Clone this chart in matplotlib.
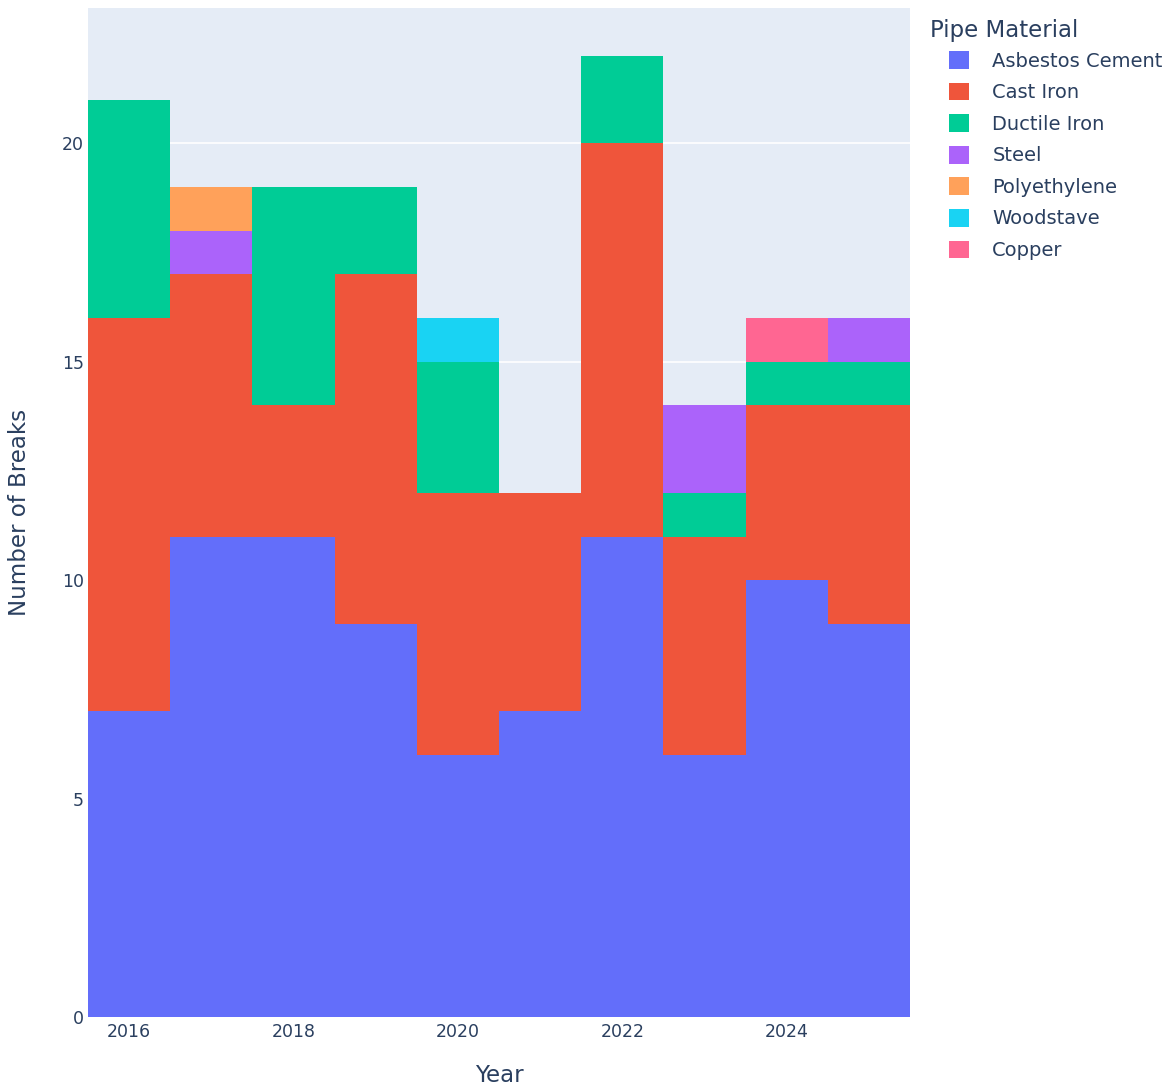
import matplotlib
matplotlib.use("Agg")
import matplotlib.pyplot as plt
import numpy as np

years = [2016, 2017, 2018, 2019, 2020, 2021, 2022, 2023, 2024, 2025]
materials = ["Asbestos Cement", "Cast Iron", "Ductile Iron", "Steel",
             "Polyethylene", "Woodstave", "Copper"]
asbestos_cement = [7, 11, 11, 9, 6, 7, 11, 6, 10, 9]
cast_iron = [9, 6, 3, 8, 6, 5, 9, 5, 4, 5]
ductile_iron = [5, 0, 5, 2, 3, 0, 2, 1, 1, 1]
steel = [0, 1, 0, 0, 0, 0, 0, 2, 0, 1]
polyethylene = [0, 1, 0, 0, 0, 0, 0, 0, 0, 0]
woodstave = [0, 0, 0, 0, 1, 0, 0, 0, 0, 0]
copper = [0, 0, 0, 0, 0, 0, 0, 0, 1, 0]
colors = ["#636EFA", "#EF553B", "#00CC96", "#AB63FA", "#FFA15A", "#19D3F3", "#FF6692"]

series = [asbestos_cement, cast_iron, ductile_iron, steel, polyethylene, woodstave, copper]

plt.rcParams["font.family"] = ["DejaVu Sans"]
text_col = "#2a3f5f"

fig = plt.figure(figsize=(11.76, 10.88), dpi=100)
ax = fig.add_axes([88 / 1176, 71 / 1088, 822 / 1176, 1009 / 1088])
ax.set_facecolor("#E5ECF6")

bottom = np.zeros(len(years))
for name, vals, col in zip(materials, series, colors):
    ax.bar(years, vals, width=1.0, bottom=bottom, color=col, label=name,
           linewidth=0, zorder=2)
    bottom += np.array(vals)

ax.set_xlim(2015.5, 2025.5)
ax.set_ylim(0, 23.1)
ax.set_yticks([0, 5, 10, 15, 20])
ax.set_xticks([2016, 2018, 2020, 2022, 2024])
ax.grid(axis="y", color="white", lw=1.2, zorder=1)
ax.set_axisbelow(True)
for s in ax.spines.values():
    s.set_visible(False)
ax.tick_params(length=0, labelsize=12.5, colors=text_col)
ax.tick_params(axis="y", pad=3)
ax.tick_params(axis="x", pad=4)
ax.set_xlabel("Year", fontsize=16.5, color=text_col, labelpad=17)
ax.set_ylabel("Number of Breaks", fontsize=16.5, color=text_col, labelpad=22)

# plotly-style legend: title sits left of the items
fig.text(930 / 1176, 1 - 30 / 1088, "Pipe Material", fontsize=16.5,
         color=text_col, ha="left", va="center")
leg = ax.legend(loc="upper left",
                bbox_to_anchor=(949 / 1176, 1 - 51 / 1088),
                bbox_transform=fig.transFigure, frameon=False,
                fontsize=14, handlelength=1.03, handleheight=1.03,
                handletextpad=1.2, labelspacing=0.62,
                borderaxespad=0, borderpad=0)
for t in leg.get_texts():
    t.set_color(text_col)

fig.savefig("out.png", dpi=100)
